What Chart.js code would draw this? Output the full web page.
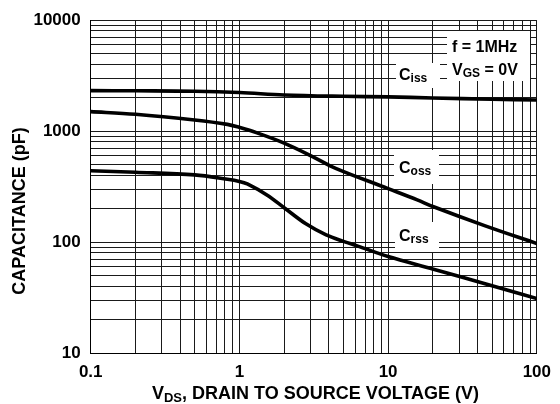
<!DOCTYPE html>
<html><head><meta charset="utf-8">
<script src="https://cdn.jsdelivr.net/npm/chart.js@4"></script>
<style>html,body{margin:0;padding:0;background:#fff}#wrap{width:560px;height:404px}</style>
</head><body><div id="wrap"><canvas id="c" width="560" height="404"></canvas></div>
<script>
// ---- data ----
const cissX = [0.1, 0.2, 0.5, 1, 2, 5, 10, 20, 50, 100];
const cissY = [2320, 2310, 2290, 2230, 2120, 2060, 2035, 1990, 1940, 1910];
const cossX = [0.1, 0.2, 0.5, 0.83, 1, 1.3, 2, 3.1, 4.44, 9.9, 15.7, 20.2, 45, 100];
const cossY = [1500, 1420, 1260, 1150, 1080, 970, 780, 590, 462, 305, 240, 208, 140, 97];
const crssX = [0.1, 0.2, 0.5, 0.83, 1, 1.13, 1.53, 2.02, 2.8, 3.83, 5.06, 6.26, 10, 20.2, 48, 100];
const crssY = [440, 426, 403, 368, 352, 334, 266, 202, 146, 116, 101, 92, 74, 57, 41, 31];
const xTickLabels = [0.1, 1, 10, 100];
const yTickLabels = [10, 100, 1000, 10000];

const FONT = '"Liberation Sans", Arial, Helvetica, sans-serif';

function logTicks(min, max) {
  const t = [];
  const d0 = Math.round(Math.log10(min)), d1 = Math.round(Math.log10(max));
  for (let d = d0; d < d1; d++) for (let m = 1; m <= 9; m++) t.push(Number((m * Math.pow(10, d)).toPrecision(6)));
  t.push(max);
  return t;
}
function pts(xs, ys) { return xs.map((x, i) => ({ x: x, y: ys[i] })); }
function isLabel(list, v) { return list.some(l => Math.abs(l - v) / l < 1e-6); }

const lineStyle = { borderColor: '#000', borderWidth: 3.6, pointRadius: 0, fill: false, tension: 0.35, borderCapStyle: 'round', borderJoinStyle: 'round' };

function drawSub(ctx, x, base, main, sub, size, subSize, dy) {
  ctx.font = 'bold ' + size + 'px ' + FONT;
  ctx.textAlign = 'left'; ctx.textBaseline = 'alphabetic';
  ctx.fillText(main, x, base);
  const w = ctx.measureText(main).width;
  ctx.font = 'bold ' + subSize + 'px ' + FONT;
  ctx.fillText(sub, x + w, base + dy);
  return x + w + ctx.measureText(sub).width;
}

const annot = {
  id: 'annot',
  beforeDatasetsDraw(chart) {
    const ctx = chart.ctx;
    ctx.save();
    ctx.fillStyle = '#fff';
    ctx.fillRect(396, 63, 44, 25);
    ctx.fillRect(394, 150, 45, 34);
    ctx.fillRect(395, 222, 44, 30);
    ctx.fillRect(447, 31, 83, 50);
    ctx.restore();
  },
  afterDraw(chart) {
    const ctx = chart.ctx;
    ctx.save();
    ctx.fillStyle = '#000';
    drawSub(ctx, 399, 80, 'C', 'iss', 16, 12, 2);
    drawSub(ctx, 399, 173, 'C', 'oss', 16, 12, 2);
    drawSub(ctx, 399, 241, 'C', 'rss', 16, 12, 2);
    ctx.font = 'bold 16px ' + FONT;
    ctx.textAlign = 'left';
    ctx.fillText('f = 1MHz', 452, 52);
    let e = drawSub(ctx, 452, 75, 'V', 'GS', 16, 12, 2);
    ctx.font = 'bold 16px ' + FONT;
    ctx.fillText(' = 0V', e, 75);
    // y title
    ctx.save();
    ctx.translate(25, 211);
    ctx.rotate(-Math.PI / 2);
    ctx.font = 'bold 18px ' + FONT;
    ctx.textAlign = 'center';
    ctx.textBaseline = 'alphabetic';
    ctx.fillText('CAPACITANCE (pF)', 0, 0);
    ctx.restore();
    // x title
    ctx.font = 'bold 18px ' + FONT;
    const w1 = ctx.measureText('V').width;
    const rest = ', DRAIN TO SOURCE VOLTAGE (V)';
    const w3 = ctx.measureText(rest).width;
    ctx.font = 'bold 13px ' + FONT;
    const w2 = ctx.measureText('DS').width;
    let x0 = 315.5 - (w1 + w2 + w3) / 2;
    ctx.font = 'bold 18px ' + FONT;
    ctx.textAlign = 'left';
    ctx.fillText('V', x0, 399);
    ctx.font = 'bold 13px ' + FONT;
    ctx.fillText('DS', x0 + w1, 402);
    ctx.font = 'bold 18px ' + FONT;
    ctx.fillText(rest, x0 + w1 + w2, 399);
    ctx.restore();
  }
};

new Chart(document.getElementById('c'), {
  type: 'line',
  data: {
    datasets: [
      Object.assign({ label: 'Ciss', data: pts(cissX, cissY) }, lineStyle),
      Object.assign({ label: 'Coss', data: pts(cossX, cossY) }, lineStyle),
      Object.assign({ label: 'Crss', data: pts(crssX, crssY) }, lineStyle)
    ]
  },
  options: {
    responsive: false,
    animation: false,
    devicePixelRatio: 1,
    layout: { padding: { left: 0, right: 15, top: 20, bottom: 0 } },
    plugins: { legend: { display: false }, tooltip: { enabled: false } },
    scales: {
      x: {
        type: 'logarithmic', min: 0.1, max: 100,
        afterBuildTicks: s => { s.ticks = logTicks(0.1, 100).map(v => ({ value: v })); },
        afterFit: s => { s.height = 51; },
        ticks: {
          autoSkip: false, maxRotation: 0, color: '#000', padding: 9,
          font: { family: FONT, size: 17, weight: 'bold' },
          callback: v => isLabel(xTickLabels, v) ? String(v) : ''
        },
        grid: { color: '#1a1a1a', lineWidth: 1, drawTicks: false },
        border: { color: '#000', width: 1 }
      },
      y: {
        type: 'logarithmic', min: 10, max: 10000,
        afterBuildTicks: s => { s.ticks = logTicks(10, 10000).map(v => ({ value: v })); },
        afterFit: s => { s.width = 90.7; },
        ticks: {
          autoSkip: false, color: '#000', padding: 10,
          font: { family: FONT, size: 17, weight: 'bold' },
          callback: v => isLabel(yTickLabels, v) ? String(v) : ''
        },
        grid: { color: '#1a1a1a', lineWidth: 1, drawTicks: false },
        border: { color: '#000', width: 1 }
      }
    }
  },
  plugins: [annot]
});
</script>
</body></html>
